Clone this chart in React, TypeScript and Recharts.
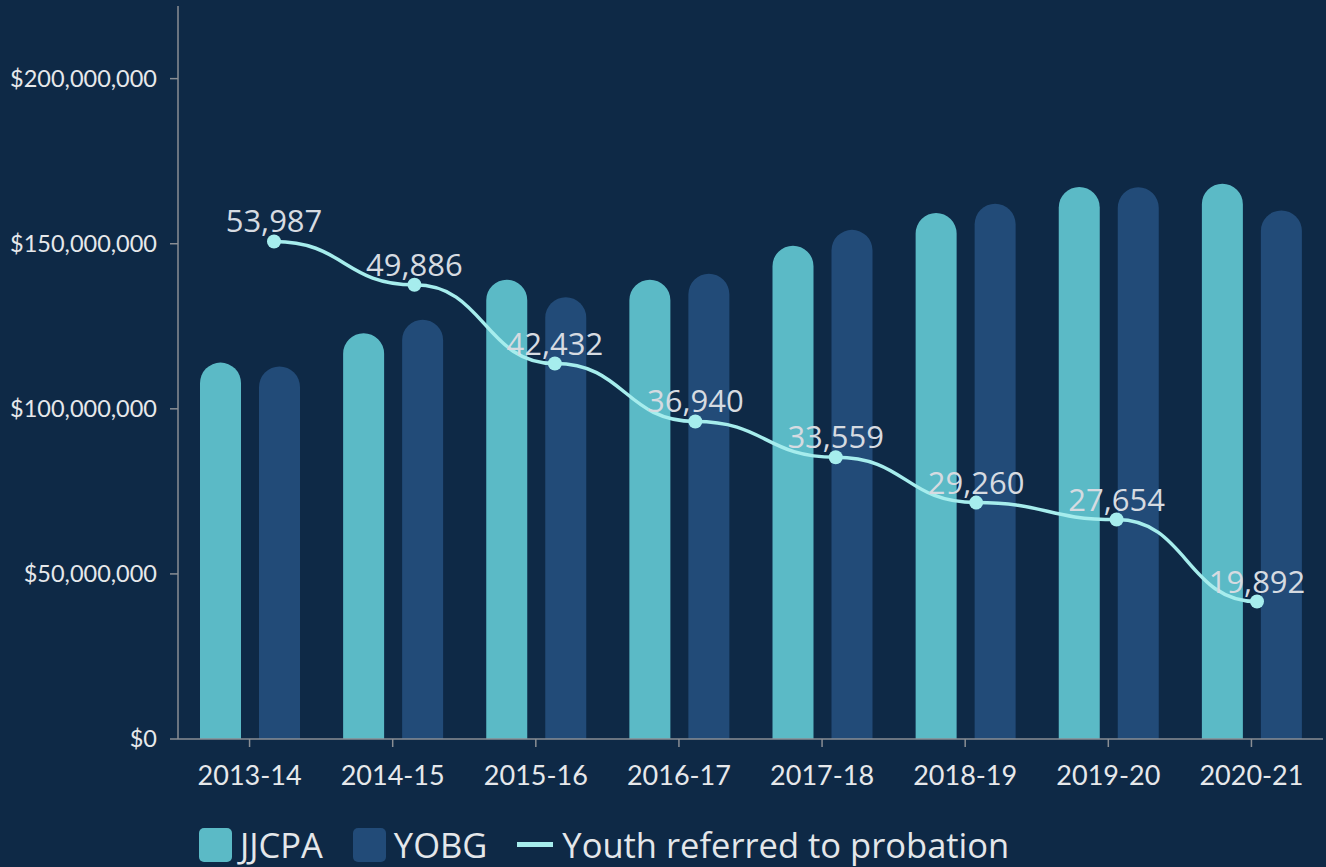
import React from 'react';
import { ComposedChart, Bar, Line, XAxis, YAxis, Legend, LabelList } from 'recharts';

const years = ['2013-14', '2014-15', '2015-16', '2016-17', '2017-18', '2018-19', '2019-20', '2020-21'];
const jjcpa = [114.0, 122.9, 139.1, 139.1, 149.4, 159.3, 167.2, 168.2].map((v) => v * 1e6);
const yobg = [112.8, 127.0, 133.8, 140.9, 154.2, 162.1, 167.1, 160.1].map((v) => v * 1e6);
const youth = [53987, 49886, 42432, 36940, 33559, 29260, 27654, 19892];
const moneyTicks = [0, 50000000, 100000000, 150000000, 200000000];

const data = years.map((year, i) => ({ year, jjcpa: jjcpa[i], yobg: yobg[i], youth: youth[i] }));

const BG = '#0e2946';
const TEAL = '#5bbac6';
const NAVY = '#224b78';
const CYAN = '#a6eded';
const AXIS = '#8a8e94';

const fmtMoney = (v: number) => '$' + v.toLocaleString('en-US');

const legendItems = [
  { label: 'JJCPA', color: TEAL, kind: 'box' },
  { label: 'YOBG', color: NAVY, kind: 'box' },
  { label: 'Youth referred to probation', color: CYAN, kind: 'line' },
];

const renderLegend = () => (
  <div style={{ height: 45, display: 'flex', alignItems: 'center', paddingLeft: 191, fontFamily: 'Open Sans', fontSize: 34.5, color: '#e4e7ea', lineHeight: '45px' }}>
    {legendItems.map((it) => (
      <div key={it.label} style={{ display: 'flex', alignItems: 'center', marginRight: 30 }}>
        {it.kind === 'box' ? (
          <span style={{ width: 33, height: 34, background: it.color, borderRadius: 5, marginRight: 8, display: 'inline-block' }} />
        ) : (
          <span style={{ width: 36, height: 5, background: it.color, marginRight: 9, display: 'inline-block' }} />
        )}
        <span>{it.label}</span>
      </div>
    ))}
  </div>
);

export default function App() {
  return (
    <div style={{ position: 'absolute', left: 0, top: 0, width: 1326, height: 867, background: BG }}>
      <ComposedChart
        width={1326}
        height={867}
        data={data}
        margin={{ top: 6, right: 3, left: 8, bottom: 0 }}
        barCategoryGap="15%"
        barGap={18}
      >
        <XAxis
          dataKey="year"
          height={83}
          stroke={AXIS}
          strokeWidth={1.5}
          tickSize={8}
          tickMargin={19}
          tick={{ fill: '#e6e8eb', fontFamily: 'Lato', fontSize: 27 }}
        />
        {/* the line sits on its own slightly narrower x scale in the original */}
        <XAxis xAxisId="line" dataKey="year" scale="point" padding={{ left: 96, right: 66 }} hide />
        <YAxis
          yAxisId="money"
          width={170}
          domain={[0, 222000000]}
          allowDataOverflow
          ticks={moneyTicks}
          tickFormatter={fmtMoney}
          stroke={AXIS}
          strokeWidth={1.5}
          tickSize={8}
          tickMargin={13}
          tick={{ fill: '#e6e8eb', fontFamily: 'Lato', fontSize: 23.5 }}
        />
        <YAxis yAxisId="youth" orientation="right" hide domain={[6870, 76290]} allowDataOverflow />
        <Legend verticalAlign="bottom" align="left" content={renderLegend} />
        <Bar yAxisId="money" dataKey="jjcpa" name="JJCPA" fill={TEAL} barSize={41} radius={[20.5, 20.5, 0, 0]} isAnimationActive={false} />
        <Bar yAxisId="money" dataKey="yobg" name="YOBG" fill={NAVY} barSize={41} radius={[20.5, 20.5, 0, 0]} isAnimationActive={false} />
        <Line
          xAxisId="line"
          yAxisId="youth"
          dataKey="youth"
          name="Youth referred to probation"
          type="bumpX"
          stroke={CYAN}
          strokeWidth={3.5}
          dot={{ r: 7, fill: CYAN, stroke: 'none' }}
          activeDot={false}
          isAnimationActive={false}
        >
          <LabelList
            dataKey="youth"
            position="top"
            offset={9}
            formatter={(v: any) => Number(v).toLocaleString('en-US')}
            style={{ fill: '#d6dbe1', fontFamily: 'Open Sans', fontSize: 31 }}
          />
        </Line>
      </ComposedChart>
    </div>
  );
}
